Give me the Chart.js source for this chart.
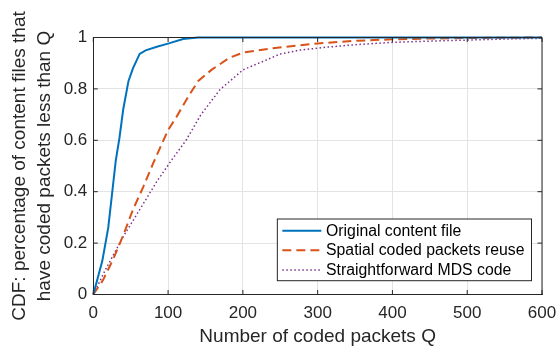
<!DOCTYPE html>
<html>
<head>
<meta charset="utf-8">
<script src="https://cdn.jsdelivr.net/npm/chart.js@4.4.1/dist/chart.umd.min.js"></script>
<style>
  html, body { margin: 0; padding: 0; background: #fff; }
  #mycanvas { display: block; }
</style>
</head>
<body>
<canvas id="mycanvas" width="556" height="347"></canvas>
<script>
// data
var seriesNames = ['Original content file', 'Spatial coded packets reuse', 'Straightforward MDS code'];

var qOriginal = [0, 12, 20, 25, 30, 35, 40, 47, 53, 62, 70, 85, 101, 120, 140, 600];
var cdfOriginal = [0, 0.13, 0.26, 0.39, 0.52, 0.61, 0.72, 0.83, 0.88, 0.936, 0.95, 0.964, 0.977, 0.994, 1, 1];

var qSpatial = [0, 13, 27, 40, 53, 67, 80, 100, 111, 127, 140, 158, 182, 200, 240, 271, 300, 350, 400, 450, 500, 600];
var cdfSpatial = [0, 0.056, 0.14, 0.23, 0.33, 0.42, 0.51, 0.64, 0.69, 0.77, 0.83, 0.874, 0.921, 0.941, 0.958, 0.968, 0.977, 0.987, 0.993, 0.996, 0.998, 1];

var qMDS = [0, 16, 40, 62, 85, 104, 124, 144, 169, 200, 231, 249, 276, 311, 350, 400, 450, 500, 550, 600];
var cdfMDS = [0, 0.095, 0.225, 0.33, 0.44, 0.52, 0.6, 0.7, 0.796, 0.874, 0.912, 0.935, 0.951, 0.962, 0.972, 0.981, 0.986, 0.99, 0.994, 0.997];

var xTicks = [0, 100, 200, 300, 400, 500, 600];
var yTicks = [0, 0.2, 0.4, 0.6, 0.8, 1];

var FONT = "'Liberation Sans', Arial, sans-serif";
var AXIS_COLOR = '#262626';

function toPoints(xs, ys) {
	var pts = [];
	for (var i in xs) {
		pts.push({x: xs[i], y: ys[i]});
	}
	return pts;
}

// matlab style: box on top/right, inward ticks, legend inside the axes
var matlabBox = {
	id: 'matlabBox',
	afterDraw: function(chart) {
		var ctx = chart.ctx;
		var area = chart.chartArea;
		var xs = chart.scales.x, ys = chart.scales.y;
		ctx.save();
		ctx.strokeStyle = AXIS_COLOR;
		ctx.lineWidth = 1;
		ctx.beginPath();
		ctx.moveTo(area.left, area.top);
		ctx.lineTo(area.right, area.top);
		ctx.lineTo(area.right, area.bottom);
		var tl = 4.5;
		xTicks.forEach(function(t) {
			var px = xs.getPixelForValue(t);
			ctx.moveTo(px, area.bottom); ctx.lineTo(px, area.bottom - tl);
			ctx.moveTo(px, area.top); ctx.lineTo(px, area.top + tl);
		});
		yTicks.forEach(function(t) {
			var py = ys.getPixelForValue(t);
			ctx.moveTo(area.left, py); ctx.lineTo(area.left + tl, py);
			ctx.moveTo(area.right, py); ctx.lineTo(area.right - tl, py);
		});
		ctx.stroke();

		// legend
		ctx.font = '15.8px ' + FONT;
		var maxW = 0;
		chart.data.datasets.forEach(function(ds) {
			maxW = Math.max(maxW, ctx.measureText(ds.label).width);
		});
		var rowH = 19.6;
		var boxW = 5 + 39 + 4.7 + maxW + 7;
		var boxH = 61.7;
		var bx = area.right - 10.5 - boxW;
		var by = area.bottom - 13.8 - boxH;
		ctx.fillStyle = '#fff';
		ctx.fillRect(bx, by, boxW, boxH);
		ctx.strokeStyle = AXIS_COLOR;
		ctx.lineWidth = 1;
		ctx.strokeRect(bx, by, boxW, boxH);
		chart.data.datasets.forEach(function(ds, i) {
			var cy = by + 11.7 + i * rowH;
			ctx.beginPath();
			ctx.strokeStyle = ds.borderColor;
			ctx.lineWidth = ds.borderWidth;
			ctx.setLineDash(ds.borderDash || []);
			ctx.moveTo(bx + 5, cy);
			ctx.lineTo(bx + 44, cy);
			ctx.stroke();
			ctx.setLineDash([]);
			ctx.fillStyle = '#000';
			ctx.textBaseline = 'middle';
			ctx.textAlign = 'left';
			ctx.fillText(ds.label, bx + 48.7, cy + 0.5);
		});
		ctx.restore();
	}
};

var chartdata = {
	datasets: [
		{
			label: seriesNames[0],
			data: toPoints(qOriginal, cdfOriginal),
			borderColor: '#0072BD',
			borderWidth: 2,
			pointRadius: 0,
			tension: 0,
			clip: false
		},
		{
			label: seriesNames[1],
			data: toPoints(qSpatial, cdfSpatial),
			borderColor: '#D95319',
			borderWidth: 2,
			borderDash: [9, 5],
			pointRadius: 0,
			tension: 0,
			clip: false
		},
		{
			label: seriesNames[2],
			data: toPoints(qMDS, cdfMDS),
			borderColor: '#7E2F8E',
			borderWidth: 1.5,
			borderDash: [1.5, 2.5],
			pointRadius: 0,
			tension: 0,
			clip: false
		}
	]
};

var ctx = document.getElementById('mycanvas');

var cdfChart = new Chart(ctx, {
	type: 'line',
	data: chartdata,
	plugins: [matlabBox],
	options: {
		responsive: false,
		animation: false,
		devicePixelRatio: 1,
		layout: { padding: { left: 0, top: 37.5, right: 14, bottom: 0 } },
		plugins: {
			legend: { display: false },
			tooltip: { enabled: false }
		},
		scales: {
			x: {
				type: 'linear',
				min: 0,
				max: 600,
				afterBuildTicks: function(scale) {
					scale.ticks = xTicks.map(function(v) { return {value: v}; });
				},
				afterFit: function(scale) {
					scale.height = 52.5;
					scale.paddingRight = 14;
				},
				ticks: {
					color: AXIS_COLOR,
					font: { family: FONT, size: 17 },
					padding: 9,
					maxRotation: 0
				},
				grid: { color: '#e3e3e3', drawTicks: false },
				border: { color: AXIS_COLOR, width: 1 },
				title: {
					display: true,
					text: 'Number of coded packets Q',
					color: AXIS_COLOR,
					font: { family: FONT, size: 19, lineHeight: 1.1 },
					padding: 0
				}
			},
			y: {
				type: 'linear',
				min: 0,
				max: 1,
				afterBuildTicks: function(scale) {
					scale.ticks = yTicks.map(function(v) { return {value: v}; });
				},
				afterFit: function(scale) {
					scale.width = 93.3;
				},
				ticks: {
					color: AXIS_COLOR,
					font: { family: FONT, size: 17 },
					padding: 6,
					callback: function(v) { return String(+v.toFixed(1)); }
				},
				grid: { color: '#e3e3e3', drawTicks: false },
				border: { color: AXIS_COLOR, width: 1 },
				title: {
					display: true,
					text: ['CDF: percentage of content files that', 'have coded packets less than Q'],
					color: AXIS_COLOR,
					font: { family: FONT, size: 19, lineHeight: 1.28 },
					padding: { top: 8, bottom: 0 }
				}
			}
		}
	}
});
</script>
</body>
</html>
